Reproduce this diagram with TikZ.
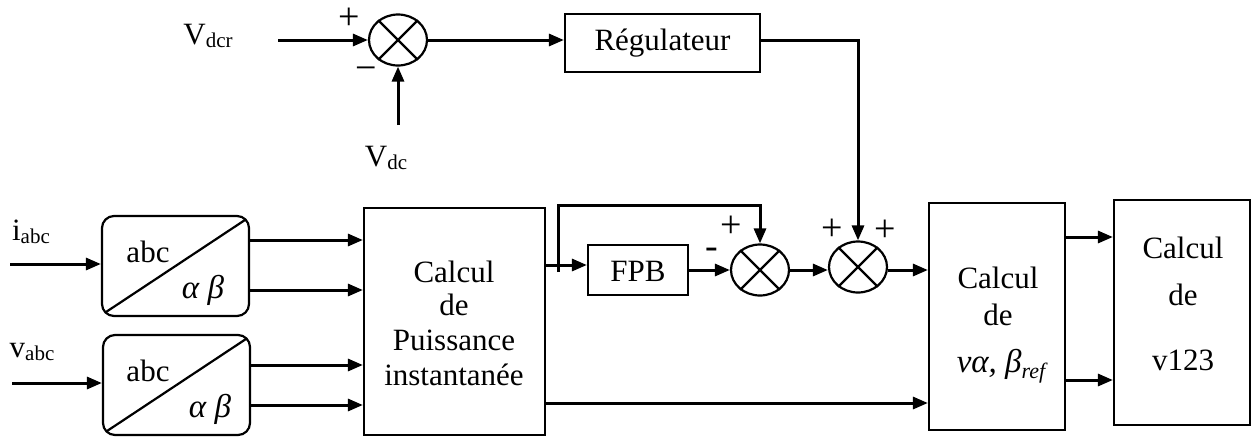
\documentclass[tikz,border=0pt]{standalone}
\usepackage{fontspec}
\setmainfont{Liberation Serif}
\usetikzlibrary{arrows.meta,shapes.geometric,calc}
\newcommand\lowsub[1]{\raisebox{-3pt}{\fontsize{21}{21}\selectfont #1}}
\newcommand\italsub[1]{\raisebox{-6pt}{\fontsize{22}{22}\selectfont\itshape #1}}
\begin{document}
\begin{tikzpicture}[x=1pt,y=-1pt,
  blk/.style={draw,line width=2.2pt,inner sep=0pt},
  rblk/.style={draw,line width=2.2pt,inner sep=0pt,rounded corners=12pt,minimum width=147pt,minimum height=100pt},
  sumc/.style={draw,ellipse,line width=2.2pt,minimum width=58pt,minimum height=51pt,inner sep=0pt},
  arr/.style={line width=3pt,-{Triangle[length=15pt,width=12pt]}},
  ln/.style={line width=3pt},
  txt/.style={font=\fontsize{31}{36}\selectfont,inner sep=0pt},
  gtxt/.style={font=\fontsize{33}{36}\selectfont\itshape,inner sep=0pt},
  sgn/.style={font=\fontsize{38}{38}\selectfont,inner sep=0pt}]
\useasboundingbox (0,0) rectangle (1252,437);

% summing junctions
\node[sumc] (s1) at (398,40) {};
\node[sumc] (s2) at (760,270) {};
\node[sumc] (s3) at (858,267) {};
\foreach \s in {s1,s2,s3}
  \draw[line width=2.2pt] (\s.45) -- (\s.225) (\s.135) -- (\s.315);

% blocks
\node[blk,minimum width=195pt,minimum height=58pt] (reg) at (662.5,43) {};
\node[txt] (regt) at (662.5,43) {Régulateur};
\node[rblk] (b1) at (175.5,266) {};
\node[rblk] (b2) at (176.5,385) {};
\node[blk,minimum width=181pt,minimum height=227pt] (P) at (454.5,321.5) {};
\node[blk,minimum width=100pt,minimum height=50pt] (fpb) at (638,270) {};
\node[txt] (fpbt) at (638,271) {FPB};
\node[blk,minimum width=136pt,minimum height=227pt] (c1) at (997,316.5) {};
\node[blk,minimum width=136pt,minimum height=225pt] (c2) at (1182,312.5) {};

% converter diagonals and texts
\draw[line width=2.2pt] ($(b1.south west)+(5,-5)$) -- ($(b1.north east)+(-5,5)$);
\draw[line width=2.2pt] ($(b2.south west)+(5,-5)$) -- ($(b2.north east)+(-5,5)$);
\node[txt,anchor=base] (b1a) at (148,262) {abc};
\node[gtxt,anchor=base] (b1b) at (203,298) {α β};
\node[txt,anchor=base] (b2a) at (148,381) {abc};
\node[gtxt,anchor=base] (b2b) at (210,417) {α β};

% block texts
\node[txt,anchor=base] (p1) at (454,282) {Calcul};
\node[txt,anchor=base] (p2) at (454,315) {de};
\node[txt,anchor=base] (p3) at (454,350) {Puissance};
\node[txt,anchor=base] (p4) at (454,385) {instantanée};
\node[txt,anchor=base] (c1a) at (998,288) {Calcul};
\node[txt,anchor=base] (c1b) at (998,325) {de};
\node[gtxt,anchor=base] (c1c) at (1001,372) {vα, β\italsub{ref}};
\node[txt,anchor=base] (c2a) at (1183,258) {Calcul};
\node[txt,anchor=base] (c2b) at (1183,305) {de};
\node[txt,anchor=base] (c2c) at (1183,370) {v123};

% input labels
\node[txt] (vdcr) at (208,36) {V\lowsub{dcr}};
\node[txt] (vdc) at (386,158) {V\lowsub{dc}};
\node[txt] (iabc) at (31,232) {i\lowsub{abc}};
\node[txt] (vabc) at (32,352) {v\lowsub{abc}};

% signs
\node[sgn] (sp1) at (349,19) {+};
\node[sgn] (sm1) at (366,74) {−};
\node[sgn] (sp2) at (731,227) {+};
\node[sgn] (sm2) at (712,253) {-};
\node[sgn] (sp3) at (832,230) {+};
\node[sgn] (sp4) at (885,231) {+};

% free ends
\coordinate (vdcrin) at (278,40);
\coordinate (vdcin) at (398,125);
\coordinate (iin) at (10,264);
\coordinate (vin) at (12,383);
\coordinate (br) at (558,272);

% connectors
\draw[arr] (vdcrin) -- (s1.west);
\draw[arr] (vdcin) -- (s1.south);
\draw[arr] (s1.east) -- (reg.west |- s1.east);
\draw[arr] (reg.east |- s1.east) -| (s3.north);
\draw[arr] (iin) -- (b1.west |- iin);
\draw[arr] (vin) -- (b2.west |- vin);
\draw[arr] (b1.east |- 0,240) -- (P.west |- 0,240);
\draw[arr] (b1.east |- 0,290) -- (P.west |- 0,290);
\draw[arr] (b2.east |- 0,365) -- (P.west |- 0,365);
\draw[arr] (b2.east |- 0,405) -- (P.west |- 0,405);
\draw[arr] (P.east |- 0,265) -- (fpb.west |- 0,265);
\draw[arr] (br) -- (558,205) -| (s2.north);
\draw[arr] (fpb.east) -- (s2.west);
\draw[arr] (s2.east) -- (s3.west |- s2.east);
\draw[arr] (s3.east |- 0,270) -- (c1.west |- 0,270);
\draw[arr] (P.east |- 0,403) -- (c1.west |- 0,403);
\draw[arr] (c1.east |- 0,237) -- (c2.west |- 0,237);
\draw[arr] (c1.east |- 0,380) -- (c2.west |- 0,380);
\end{tikzpicture}
\end{document}
